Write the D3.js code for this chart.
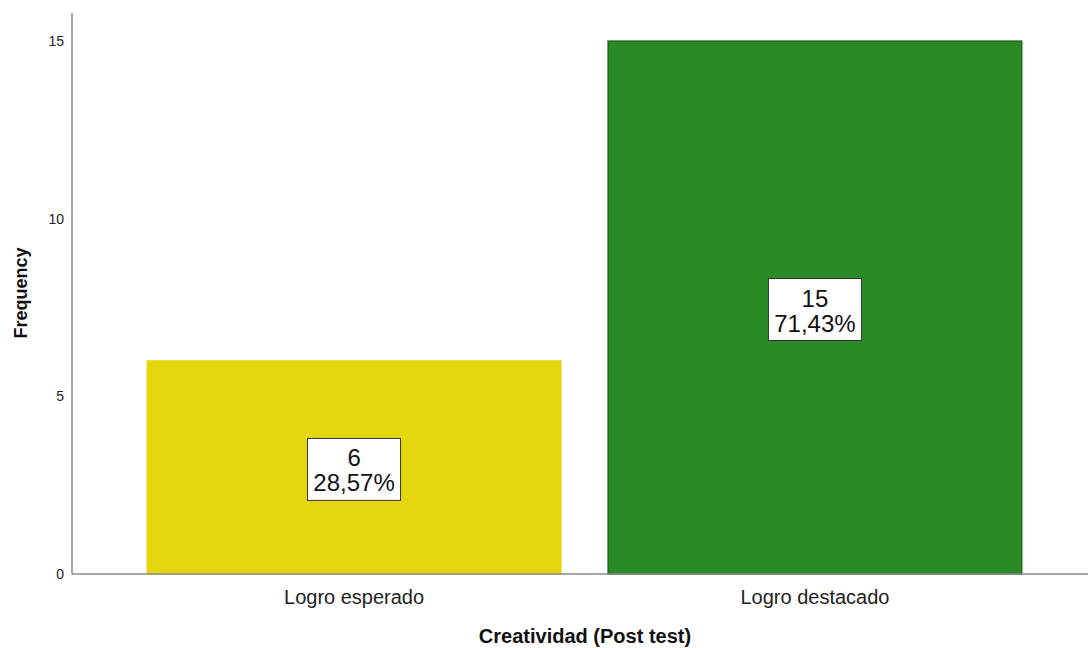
<!DOCTYPE html>
<html><head><meta charset="utf-8">
<script src="https://cdn.jsdelivr.net/npm/d3@7"></script>
<style>body{margin:0;background:#fff;}svg{display:block;font-family:Arial,"Liberation Sans",sans-serif;}</style>
</head><body><svg id="c" width="1088" height="648"></svg>
<script>
const categories = ["Logro esperado", "Logro destacado"];
const counts = [6, 15];
const percents = ["28,57%", "71,43%"];
const yTicks = [0, 5, 10, 15];
const fills = ["#e5d60e", "#2a8a26"];
const strokes = ["#e5d60e", "#1f5e1f"];

const svg = d3.select("#c");
const x = d3.scaleBand().domain(categories).range([72, 1097]).paddingInner(0.102).paddingOuter(0.163);
const y = d3.scaleLinear().domain([0, 15]).range([574, 41]);

// bars
svg.selectAll("rect.bar").data(categories).join("rect")
  .attr("x", d => x(d)).attr("width", x.bandwidth())
  .attr("y", (d,i) => y(counts[i])).attr("height", (d,i) => y(0) - y(counts[i]))
  .attr("fill", (d,i) => fills[i]).attr("stroke", (d,i) => strokes[i]).attr("stroke-width", 1.2);

// axes
const yAxis = d3.axisLeft(y).tickValues(yTicks).tickSize(0).tickPadding(8);
const gy = svg.append("g").attr("transform", "translate(72,0)").call(yAxis);
gy.select(".domain").remove();
gy.selectAll("text").attr("font-size", 14).attr("fill", "#222");
svg.append("line").attr("x1", 72).attr("x2", 72).attr("y1", 13).attr("y2", 574).attr("stroke", "#888").attr("stroke-width", 1.5);

const xAxis = d3.axisBottom(x).tickSize(0).tickPadding(16);
const gx = svg.append("g").attr("transform", "translate(0,574)").call(xAxis);
gx.select(".domain").remove();
gx.selectAll("text").attr("font-size", 20).attr("fill", "#222");
svg.append("line").attr("x1", 72).attr("x2", 1088).attr("y1", 574).attr("y2", 574).attr("stroke", "#888").attr("stroke-width", 1.5);

// labels
categories.forEach((c, i) => {
  const cx = x(c) + x.bandwidth()/2;
  const cy = y(counts[i]/2) + 2;
  const g = svg.append("g");
  g.append("rect").attr("x", cx - 46.5).attr("y", cy - 31).attr("width", 93).attr("height", 62)
    .attr("fill", "#fff").attr("stroke", "#333").attr("stroke-width", 1);
  g.append("text").attr("x", cx).attr("y", cy - 3).attr("text-anchor", "middle").attr("font-size", 24).attr("fill", "#111").text(counts[i]);
  g.append("text").attr("x", cx).attr("y", cy + 22).attr("text-anchor", "middle").attr("font-size", 24).attr("fill", "#111").text(percents[i]);
});

// titles
svg.append("text").attr("x", 585).attr("y", 643).attr("text-anchor", "middle").attr("font-size", 20).attr("font-weight", "bold").attr("fill", "#111").text("Creatividad (Post test)");
svg.append("text").attr("transform", "translate(27,293) rotate(-90)").attr("text-anchor", "middle").attr("font-size", 18).attr("font-weight", "bold").attr("fill", "#111").text("Frequency");
</script></body></html>
